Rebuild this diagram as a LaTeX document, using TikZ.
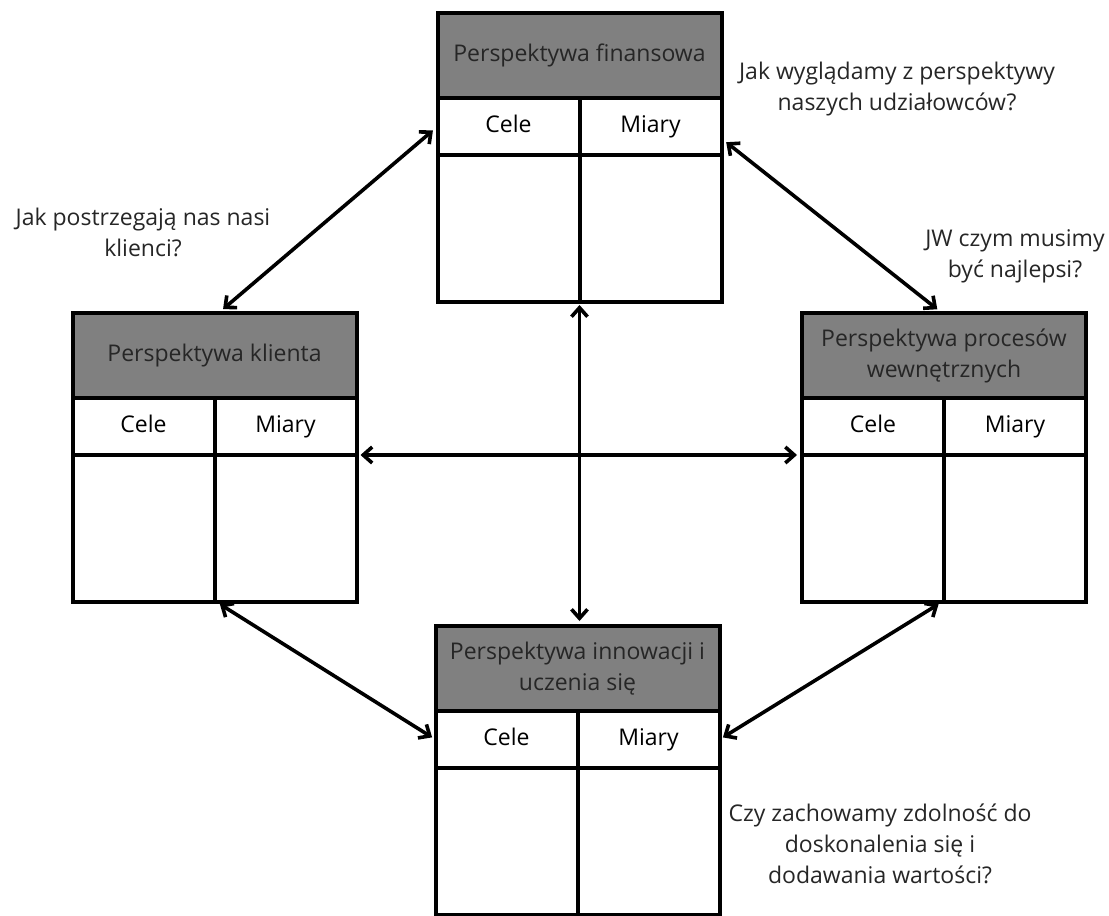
\documentclass[tikz,border=0pt]{standalone}
\usepackage{fontspec}
\setmainfont{Open Sans}
\usetikzlibrary{positioning,arrows.meta}
\tikzset{
  kopf/.style={draw,line width=2pt,fill=gray,outer sep=0pt,inner sep=0pt,
    minimum width=142pt,minimum height=42.5pt,align=center,text=black!85},
  pole/.style={draw,line width=2pt,fill=white,outer sep=0pt,inner sep=0pt,
    minimum width=71pt,minimum height=28.5pt,text height=8.5pt,text depth=2.5pt},
  dol/.style={draw,line width=2pt,fill=white,outer sep=0pt,inner sep=0pt,
    minimum width=71pt,minimum height=73.5pt},
  strz/.style={{Straight Barb[length=4.5pt,width=8pt]}-{Straight Barb[length=4.5pt,width=8pt]},line width=1.8pt},
  pyt/.style={align=center,text=black!85}
}
\begin{document}
\begin{tikzpicture}[x=0.5pt,y=-0.5pt,font=\fontsize{11.5}{15.5}\selectfont]
\useasboundingbox (0,0) rectangle (1109,916);
% cztery perspektywy: naglowek, Cele/Miary, puste pola
\foreach \n/\x/\y/\t in {fin/579.5/55.5/{Perspektywa finansowa},
                         kli/214.5/355.5/{Perspektywa klienta},
                         pro/944/355.5/{Perspektywa procesów\\wewnętrznych},
                         inn/577.5/668.5/{Perspektywa innowacji i\\uczenia się}}{
  \node[kopf] (\n-kopf) at (\x,\y) {\t};
  \node[pole,below right=0pt and 0pt of \n-kopf.south west] (\n-cele) {Cele};
  \node[pole,right=0pt of \n-cele] (\n-miary) {Miary};
  \node[dol,below=0pt of \n-cele] (\n-c) {};
  \node[dol,below=0pt of \n-miary] (\n-m) {};
}
% strzalki
\draw[strz,shorten <=1.5pt,shorten >=2.5pt] (fin-c.south east) -- (fin-c.south east |- inn-kopf.north);
\draw[strz,shorten <=2pt,shorten >=2.5pt] (kli-m.north east) -- (pro-c.north west);
\draw[strz,shorten <=3pt,shorten >=3pt] (fin-cele.west) -- ([xshift=2pt]kli-kopf.north);
\draw[strz,shorten <=3pt,shorten >=3pt] ([yshift=-6pt]fin-miary.east) -- ([xshift=-1pt]pro-kopf.north);
\draw[strz,shorten <=2pt,shorten >=2pt] ([xshift=1pt]kli-c.south east) -- (inn-cele.west);
\draw[strz,shorten <=2pt,shorten >=2pt] ([xshift=-1pt]pro-c.south east) -- (inn-miary.east);
% pytania
\node[pyt] (q-fin) at (897,89) {Jak wyglądamy z perspektywy\\naszych udziałowców?};
\node[pyt] (q-kli) at (143,232) {Jak postrzegają nas nasi\\klienci?};
\node[pyt] (q-pro) at (1015,256) {JW czym musimy\\być najlepsi?};
\node[pyt] (q-inn) at (880,844) {Czy zachowamy zdolność do\\doskonalenia się i\\dodawania wartości?};
\end{tikzpicture}
\end{document}
